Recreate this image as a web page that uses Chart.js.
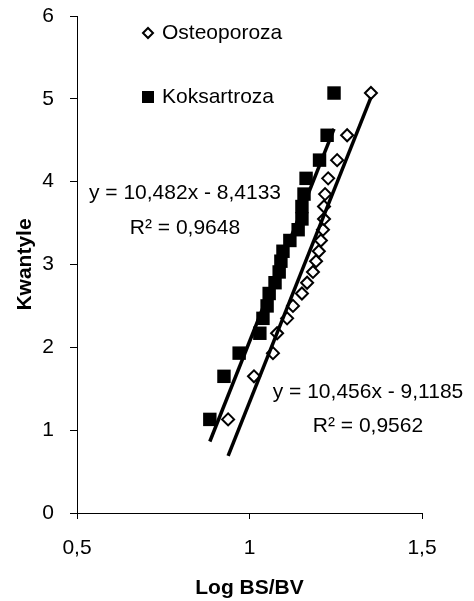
<!DOCTYPE html>
<html>
<head>
<meta charset="utf-8">
<script src="https://cdn.jsdelivr.net/npm/chart.js@4.4.1/dist/chart.umd.min.js"></script>
<style>
  body { margin: 0; background: #fff; }
  #wrap { width: 474px; height: 601px; }
</style>
</head>
<body>
<div id="wrap"><canvas id="qqChart"></canvas></div>
<script>
    // Kwantyle (wspolne dla obu grup)
    var kwantyle = [1.13, 1.65, 1.93, 2.17, 2.35, 2.50, 2.65, 2.78, 2.91, 3.04,
                    3.16, 3.29, 3.42, 3.55, 3.70, 3.85, 4.04, 4.26, 4.56, 5.07];
    // Log BS/BV
    var osteoporoza = [0.938, 1.013, 1.068, 1.080, 1.109, 1.126, 1.152, 1.167, 1.184, 1.193,
                       1.201, 1.207, 1.213, 1.216, 1.216, 1.219, 1.228, 1.254, 1.283, 1.352];
    var koksartroza = [0.885, 0.926, 0.970, 1.030, 1.039, 1.051, 1.057, 1.074, 1.086, 1.091,
                       1.097, 1.117, 1.141, 1.152, 1.152, 1.158, 1.164, 1.203, 1.225, 1.245];
    var seriesNames = ["Osteoporoza", "Koksartroza"];
    // linie trendu: y = a*x + b
    var trendSlope = [10.456, 10.482];
    var trendIntercept = [-9.1185, -8.4133];
    var trendText = [["y = 10,456x - 9,1185", "R\u00b2 = 0,9562"],
                     ["y = 10,482x - 8,4133", "R\u00b2 = 0,9648"]];
    var xTickLabels = ["0,5", "1", "1,5"];

    var FONT = "'Liberation Sans', Arial, sans-serif";

    function toPoints(xs) {
        return xs.map(function (x, i) { return { x: x, y: kwantyle[i] }; });
    }
    function trendPoints(xs, k) {
        var lo = Math.min.apply(null, xs), hi = Math.max.apply(null, xs);
        return [lo, hi].map(function (x) { return { x: x, y: trendSlope[k] * x + trendIntercept[k] }; });
    }

    // legenda i rownania rysowane recznie
    var extras = {
        id: "extras",
        afterDatasetsDraw: function (chart) {
            var ctx = chart.ctx;
            ctx.save();
            ctx.fillStyle = "#000";
            ctx.textBaseline = "middle";
            ctx.font = "21px " + FONT;

            // legenda
            var legend = [
                { y: 33, style: "rectRot", r: 5, fill: "#fff", bw: 2 },
                { y: 97, style: "rect", r: 8.5, fill: "#000", bw: 0 }
            ];
            legend.forEach(function (it, i) {
                ctx.fillStyle = it.fill;
                ctx.strokeStyle = "#000";
                ctx.lineWidth = it.bw || 1;
                Chart.helpers.drawPoint(ctx, { pointStyle: it.style, radius: it.r, borderWidth: it.bw }, 148, it.y);
                ctx.fillStyle = "#000";
                ctx.textAlign = "left";
                ctx.fillText(seriesNames[i], 162, it.y);
            });

            // rownania
            ctx.textAlign = "center";
            var pos = [[368, 392, 426], [185, 193, 228]];
            trendText.forEach(function (lines, k) {
                ctx.fillText(lines[0], pos[k][0], pos[k][1]);
                ctx.fillText(lines[1], pos[k][0], pos[k][2]);
            });
            ctx.restore();
        }
    };

    var ctx = document.getElementById("qqChart").getContext("2d");
    var chart = new Chart(ctx, {
        type: "scatter",
        data: {
            datasets: [
                {
                    type: "line",
                    data: trendPoints(osteoporoza, 0),
                    borderColor: "#000",
                    borderWidth: 3.5,
                    pointRadius: 0,
                    fill: false,
                    order: 0
                },
                {
                    type: "line",
                    data: trendPoints(koksartroza, 1),
                    borderColor: "#000",
                    borderWidth: 3.5,
                    pointRadius: 0,
                    fill: false,
                    order: 1
                },
                {
                    label: seriesNames[0],
                    data: toPoints(osteoporoza),
                    pointStyle: "rectRot",
                    pointRadius: 6,
                    backgroundColor: "#fff",
                    borderColor: "#000",
                    borderWidth: 2,
                    order: 2
                },
                {
                    label: seriesNames[1],
                    data: toPoints(koksartroza),
                    pointStyle: "rect",
                    pointRadius: 9.5,
                    backgroundColor: "#000",
                    borderColor: "#000",
                    borderWidth: 0,
                    order: 3
                }
            ]
        },
        options: {
            responsive: true,
            maintainAspectRatio: false,
            animation: false,
            layout: { padding: { top: 16, right: 52, left: 0, bottom: 0 } },
            plugins: {
                legend: { display: false },
                tooltip: { enabled: false }
            },
            scales: {
                x: {
                    type: "linear",
                    min: 0.5,
                    max: 1.5,
                    afterFit: function (s) { s.height = 88; },
                    ticks: {
                        stepSize: 0.5,
                        padding: 17,
                        color: "#000",
                        font: { family: FONT, size: 21 },
                        callback: function (v, i) { return xTickLabels[i]; }
                    },
                    grid: { drawOnChartArea: false, tickLength: 6, color: "#000" },
                    border: { color: "#000", width: 1 },
                    title: {
                        display: true,
                        text: "Log BS/BV",
                        color: "#000",
                        font: { family: FONT, size: 21, weight: "bold" },
                        padding: { top: 0, bottom: 0 }
                    }
                },
                y: {
                    min: 0,
                    max: 6,
                    afterFit: function (s) {
                        s.width = 77;
                        s.paddingTop = 0;
                        s.paddingBottom = 0;
                    },
                    ticks: {
                        stepSize: 1,
                        padding: 16,
                        color: "#000",
                        font: { family: FONT, size: 21 }
                    },
                    grid: { drawOnChartArea: false, tickLength: 7, color: "#000" },
                    border: { color: "#000", width: 1 },
                    title: {
                        display: true,
                        text: "Kwantyle",
                        color: "#000",
                        font: { family: FONT, size: 21, weight: "bold" },
                        padding: { top: 13, bottom: 0 }
                    }
                }
            }
        },
        plugins: [extras]
    });
</script>
</body>
</html>
